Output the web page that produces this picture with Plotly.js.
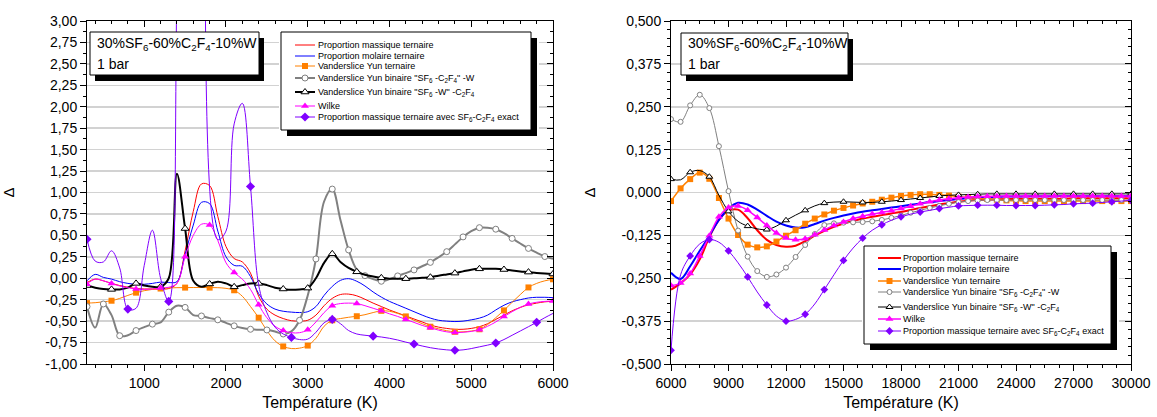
<!DOCTYPE html>
<html><head><meta charset="utf-8">
<script src="https://cdn.plot.ly/plotly-3.0.1.min.js"></script>
<style>html,body{margin:0;padding:0;background:#fff}#chart{width:1157px;height:417px}</style>
</head><body><div id="chart"></div>
<script>
// ---------------- DATA ----------------
const T_LEFT = [300,400,500,600,700,800,900,1000,1100,1200,
 1300,1400,1500,1600,1700,1800,1900,2000,2100,2200,
 2300,2400,2500,2600,2700,2800,2900,3000,3100,3200,
 3300,3400,3500,3600,3700,3800,3900,4000,4100,4200,
 4300,4400,4500,4600,4700,4800,4900,5000,5100,5200,
 5300,5400,5500,5600,5700,5800,5900,6000];

const RED_L = [-0.05,-0.01,-0.03,-0.06,-0.085,-0.105,-0.12,-0.125,-0.125,-0.125,
 -0.12,-0.06,0.32,0.78,1.10,1.08,0.72,0.37,0.23,0.19,
 0.06,-0.21,-0.36,-0.43,-0.47,-0.495,-0.50,-0.49,-0.43,-0.32,
 -0.235,-0.19,-0.185,-0.205,-0.245,-0.29,-0.33,-0.37,-0.405,-0.44,
 -0.475,-0.51,-0.545,-0.57,-0.585,-0.595,-0.595,-0.585,-0.565,-0.53,
 -0.48,-0.43,-0.38,-0.34,-0.31,-0.29,-0.275,-0.27];

const BLUE_L = [-0.03,0.045,0.01,-0.01,-0.04,-0.06,-0.07,-0.07,-0.06,-0.045,
 -0.05,-0.04,0.28,0.62,0.885,0.87,0.55,0.25,0.15,0.14,
 0.02,-0.18,-0.30,-0.36,-0.385,-0.395,-0.40,-0.39,-0.33,-0.20,
 -0.095,-0.025,-0.005,-0.035,-0.09,-0.16,-0.22,-0.27,-0.31,-0.35,
 -0.39,-0.43,-0.465,-0.49,-0.50,-0.505,-0.50,-0.485,-0.465,-0.43,
 -0.37,-0.315,-0.275,-0.25,-0.23,-0.222,-0.222,-0.226];

const ORANGE_L = [-0.29,-0.285,-0.275,-0.262,-0.235,-0.20,-0.168,-0.145,-0.13,-0.12,
 -0.113,-0.11,-0.109,-0.108,-0.108,-0.109,-0.11,-0.118,-0.14,-0.21,
 -0.33,-0.46,-0.61,-0.73,-0.795,-0.82,-0.815,-0.785,-0.70,-0.56,
 -0.49,-0.47,-0.455,-0.443,-0.425,-0.40,-0.38,-0.385,-0.41,-0.445,
 -0.49,-0.53,-0.565,-0.59,-0.612,-0.625,-0.625,-0.615,-0.595,-0.54,
 -0.46,-0.375,-0.28,-0.19,-0.107,-0.06,-0.03,-0.012];

const GRAY_L = [-0.33,-0.575,-0.30,-0.43,-0.67,-0.665,-0.61,-0.57,-0.535,-0.515,
 -0.395,-0.32,-0.34,-0.43,-0.44,-0.465,-0.485,-0.52,-0.555,-0.58,
 -0.595,-0.60,-0.603,-0.62,-0.65,-0.62,-0.49,-0.20,0.225,0.895,
 1.04,0.68,0.33,0.10,0.03,-0.01,-0.035,-0.01,0.027,0.06,
 0.097,0.14,0.185,0.245,0.31,0.395,0.482,0.55,0.59,0.59,
 0.572,0.525,0.465,0.405,0.348,0.298,0.253,0.228];

const BLACK_L = [-0.085,-0.11,-0.125,-0.13,-0.13,-0.11,-0.06,-0.085,-0.10,-0.10,
 0.0,1.22,0.58,-0.03,-0.10,-0.066,-0.04,-0.06,-0.10,-0.08,
 -0.06,-0.06,-0.08,-0.11,-0.125,-0.135,-0.13,-0.115,0.0,0.18,
 0.285,0.19,0.12,0.075,0.04,0.02,0.005,-0.005,-0.005,-0.005,
 0.0,0.005,0.012,0.03,0.045,0.06,0.08,0.10,0.11,0.112,
 0.11,0.102,0.09,0.08,0.072,0.062,0.055,0.05];

const MAGENTA_L = [-0.07,-0.01,-0.03,-0.06,-0.09,-0.11,-0.125,-0.13,-0.125,-0.115,
 -0.105,-0.06,0.25,0.50,0.63,0.62,0.44,0.18,0.066,-0.01,
 -0.13,-0.31,-0.46,-0.56,-0.61,-0.635,-0.635,-0.60,-0.51,-0.40,
 -0.32,-0.295,-0.29,-0.295,-0.32,-0.35,-0.38,-0.415,-0.445,-0.48,
 -0.515,-0.55,-0.578,-0.605,-0.625,-0.634,-0.63,-0.62,-0.60,-0.56,
 -0.51,-0.447,-0.39,-0.34,-0.30,-0.28,-0.27,-0.265];

const PURPLE_L = [0.455,0.20,0.19,0.32,0.12,-0.36,-0.35,0.15,0.56,0.0,
 -0.27,3.4,14,22,22,14,0.45,0.55,1.8,2.04,
 1.07,-0.08,-0.40,-0.57,-0.65,-0.69,-0.715,-0.71,-0.63,-0.52,
 -0.48,-0.53,-0.61,-0.65,-0.665,-0.675,-0.685,-0.70,-0.72,-0.745,
 -0.767,-0.79,-0.81,-0.825,-0.835,-0.84,-0.835,-0.82,-0.80,-0.78,
 -0.755,-0.715,-0.665,-0.615,-0.565,-0.514,-0.46,-0.41];

const T_RIGHT = [6000,6500,7000,7500,8000,8500,9000,9500,10000,10500,
 11000,11500,12000,12500,13000,13500,14000,14500,15000,15500,
 16000,16500,17000,17500,18000,18500,19000,19500,20000,20500,
 21000,21500,22000,22500,23000,23500,24000,24500,25000,25500,
 26000,26500,27000,27500,28000,28500,29000,29500,30000];

const RED_R = [-0.283,-0.265,-0.239,-0.195,-0.13,-0.08,-0.053,-0.05,-0.075,-0.11,
 -0.138,-0.153,-0.158,-0.155,-0.142,-0.126,-0.112,-0.1,-0.091,-0.083,
 -0.076,-0.071,-0.066,-0.061,-0.057,-0.051,-0.045,-0.04,-0.035,-0.031,
 -0.027,-0.024,-0.022,-0.021,-0.02,-0.019,-0.019,-0.018,-0.018,-0.018,
 -0.018,-0.018,-0.017,-0.017,-0.017,-0.017,-0.017,-0.017,-0.017];

const BLUE_R = [-0.234,-0.252,-0.215,-0.17,-0.126,-0.08,-0.047,-0.03,-0.035,-0.05,
 -0.068,-0.085,-0.096,-0.102,-0.101,-0.092,-0.082,-0.074,-0.067,-0.061,
 -0.056,-0.052,-0.048,-0.044,-0.04,-0.036,-0.032,-0.028,-0.025,-0.022,
 -0.019,-0.017,-0.015,-0.014,-0.013,-0.012,-0.012,-0.011,-0.011,-0.011,
 -0.011,-0.01,-0.01,-0.01,-0.01,-0.01,-0.01,-0.01,-0.01];

const ORANGE_R = [-0.025,0.012,0.039,0.058,0.04,-0.016,-0.076,-0.124,-0.152,-0.16,
 -0.157,-0.143,-0.126,-0.11,-0.091,-0.076,-0.064,-0.053,-0.045,-0.038,
 -0.032,-0.027,-0.021,-0.015,-0.01,-0.007,-0.005,-0.005,-0.007,-0.009,
 -0.012,-0.015,-0.017,-0.019,-0.021,-0.023,-0.024,-0.025,-0.025,-0.025,
 -0.025,-0.025,-0.025,-0.025,-0.025,-0.025,-0.025,-0.025,-0.025];

const GRAY_R = [0.214,0.206,0.254,0.285,0.246,0.135,0.004,-0.111,-0.187,-0.229,
 -0.246,-0.239,-0.219,-0.188,-0.153,-0.121,-0.095,-0.09,-0.088,-0.087,
 -0.086,-0.084,-0.08,-0.074,-0.067,-0.059,-0.052,-0.045,-0.039,-0.033,
 -0.028,-0.025,-0.023,-0.022,-0.022,-0.022,-0.022,-0.022,-0.022,-0.022,
 -0.022,-0.022,-0.022,-0.022,-0.022,-0.022,-0.022,-0.022,-0.022];

const BLACK_R = [0.039,0.037,0.059,0.064,0.046,-0.008,-0.055,-0.084,-0.098,-0.106,
 -0.108,-0.098,-0.081,-0.066,-0.052,-0.039,-0.031,-0.028,-0.027,-0.028,
 -0.029,-0.029,-0.027,-0.025,-0.022,-0.019,-0.016,-0.013,-0.01,-0.008,
 -0.007,-0.006,-0.005,-0.004,-0.004,-0.004,-0.004,-0.004,-0.004,-0.004,
 -0.004,-0.004,-0.004,-0.004,-0.004,-0.004,-0.004,-0.004,-0.004];

const MAGENTA_R = [-0.271,-0.264,-0.236,-0.185,-0.126,-0.071,-0.044,-0.039,-0.052,-0.073,
 -0.096,-0.118,-0.133,-0.138,-0.135,-0.123,-0.109,-0.096,-0.086,-0.076,
 -0.069,-0.063,-0.058,-0.053,-0.047,-0.04,-0.033,-0.027,-0.022,-0.018,
 -0.015,-0.013,-0.012,-0.011,-0.011,-0.01,-0.01,-0.01,-0.01,-0.01,
 -0.01,-0.01,-0.01,-0.01,-0.01,-0.01,-0.01,-0.01,-0.01];

const PURPLE_R = [-0.46,-0.24,-0.185,-0.15,-0.137,-0.145,-0.17,-0.205,-0.246,-0.29,
 -0.328,-0.36,-0.375,-0.37,-0.355,-0.325,-0.283,-0.24,-0.198,-0.162,
 -0.133,-0.11,-0.094,-0.081,-0.071,-0.063,-0.057,-0.052,-0.047,-0.043,
 -0.039,-0.038,-0.037,-0.037,-0.037,-0.038,-0.038,-0.038,-0.038,-0.037,
 -0.036,-0.035,-0.033,-0.032,-0.031,-0.029,-0.027,-0.025,-0.023];

const LEGEND_NAMES = [
 'Proportion massique ternaire',
 'Proportion molaire ternaire',
 'Vanderslice Yun ternaire',
 'Vanderslice Yun binaire "SF<sub>6</sub> -C<sub>2</sub>F<sub>4</sub>" -W',
 'Vanderslice Yun binaire "SF<sub>6</sub> -W" -C<sub>2</sub>F<sub>4</sub>',
 'Wilke',
 'Proportion massique ternaire avec SF<sub>6</sub>-C<sub>2</sub>F<sub>4</sub> exact'
];
const BOX_LINE1 = '30%SF<sub>6</sub>-60%C<sub>2</sub>F<sub>4</sub>-10%W';
const BOX_LINE2 = '1 bar';
const X_TITLE = 'Température (K)';
const Y_TITLE = 'Δ';
const YL_TICKVALS = [-1,-0.75,-0.5,-0.25,0,0.25,0.5,0.75,1,1.25,1.5,1.75,2,2.25,2.5,2.75,3];
const YL_TICKTEXT = ['-1,00','-0,75','-0,50','-0,25','0,00','0,25','0,50','0,75','1,00','1,25','1,50','1,75','2,00','2,25','2,50','2,75','3,00'];
const YR_TICKVALS = [-0.5,-0.375,-0.25,-0.125,0,0.125,0.25,0.375,0.5];
const YR_TICKTEXT = ['-0,500','-0,375','-0,250','-0,125','0,000','0,125','0,250','0,375','0,500'];

// ---------------- LAYOUT HELPERS ----------------
const FONT = 'Liberation Sans, Arial, Helvetica, sans-serif';
const W = 1157, H = 417, ML = 87, MR = 26, MT = 21, MB = 53;
const PW = W - ML - MR, PH = H - MT - MB;
const px = v => (v - ML) / PW;
const py = v => (H - MB - v) / PH;

const COL = {red:'#ff0000', blue:'#0000ff', orange:'#ff8000', gray:'#808080', black:'#000000', magenta:'#ff00ff', purple:'#8000ff'};

const STYLE_L = [
 {c:COL.red, w:1},
 {c:COL.blue, w:1},
 {c:COL.orange, w:1, m:{symbol:'square', size:6, color:COL.orange, line:{width:0}}, every:300, off:0},
 {c:COL.gray, w:2, m:{symbol:'circle', size:6, color:'#ffffff', line:{width:1, color:COL.gray}}, every:200, off:100},
 {c:COL.black, w:2, m:{symbol:'triangle-up', size:7, color:'#ffffff', line:{width:1, color:COL.black}}, every:300, off:0},
 {c:COL.magenta, w:1, m:{symbol:'triangle-up', size:7, color:COL.magenta, line:{width:0}}, every:300, off:0},
 {c:COL.purple, w:1, m:{symbol:'diamond', size:7, color:COL.purple, line:{width:0}}, every:500, off:300}
];
const STYLE_R = [
 {c:COL.red, w:2},
 {c:COL.blue, w:2},
 {c:COL.orange, w:1.5, m:{symbol:'square', size:6, color:COL.orange, line:{width:0}}, every:500, off:0},
 {c:COL.gray, w:1, m:{symbol:'circle', size:5, color:'#ffffff', line:{width:1, color:COL.gray}}, every:500, off:0},
 {c:COL.black, w:1, m:{symbol:'triangle-up', size:6, color:'#ffffff', line:{width:1, color:COL.black}}, every:1000, off:0},
 {c:COL.magenta, w:1.5, m:{symbol:'triangle-up', size:7, color:COL.magenta, line:{width:0}}, every:500, off:0},
 {c:COL.purple, w:1, m:{symbol:'diamond', size:6, color:COL.purple, line:{width:0}}, every:1000, off:0}
];

const traces = [];
function addSeries(xs, ys, st, xa, ya) {
  traces.push({type:'scatter', mode:'lines', x:xs, y:ys, xaxis:xa, yaxis:ya,
    line:{color:st.c, width:st.w, shape:'spline', smoothing:1}, hoverinfo:'skip', showlegend:false});
  if (st.m) {
    const mx = [], my = [];
    xs.forEach((t, i) => { if (((t - st.off) % st.every) === 0) { mx.push(t); my.push(ys[i]); } });
    traces.push({type:'scatter', mode:'markers', x:mx, y:my, xaxis:xa, yaxis:ya,
      marker:st.m, hoverinfo:'skip', showlegend:false});
  }
}
const LEFT_SERIES = [RED_L, BLUE_L, ORANGE_L, GRAY_L, BLACK_L, MAGENTA_L, PURPLE_L];
const RIGHT_SERIES = [RED_R, BLUE_R, ORANGE_R, GRAY_R, BLACK_R, MAGENTA_R, PURPLE_R];
LEFT_SERIES.forEach((ys, i) => addSeries(T_LEFT, ys, STYLE_L[i], 'x', 'y'));
RIGHT_SERIES.forEach((ys, i) => addSeries(T_RIGHT, ys, STYLE_R[i], 'x2', 'y2'));

// empty traces so the mirror (inner-tick) axes exist
traces.push({type:'scatter', x:[], y:[], xaxis:'x3', yaxis:'y', showlegend:false, hoverinfo:'skip'});
traces.push({type:'scatter', x:[], y:[], xaxis:'x', yaxis:'y3', showlegend:false, hoverinfo:'skip'});
traces.push({type:'scatter', x:[], y:[], xaxis:'x4', yaxis:'y2', showlegend:false, hoverinfo:'skip'});
traces.push({type:'scatter', x:[], y:[], xaxis:'x2', yaxis:'y4', showlegend:false, hoverinfo:'skip'});

// ---------------- LEGEND BOXES (own little subplots) ----------------
const annotations = [];
const shapes = [];
function buildLegend(cfg) {
  const xa = 'x' + cfg.id, ya = 'y' + cfg.id;
  shapes.push({type:'rect', xref:xa, yref:ya, layer:'below', x0:cfg.box[0]+6-cfg.org[0], y0:cfg.box[1]+6-cfg.org[1], x1:cfg.box[2]+6-cfg.org[0], y1:cfg.box[3]+6-cfg.org[1], fillcolor:'#000', line:{width:0}});
  shapes.push({type:'rect', xref:xa, yref:ya, layer:'below', x0:cfg.box[0]-cfg.org[0], y0:cfg.box[1]-cfg.org[1], x1:cfg.box[2]-cfg.org[0], y1:cfg.box[3]-cfg.org[1], fillcolor:'#fff', line:{width:1, color:'#000'}});
  cfg.rows.forEach((r, i) => {
    const st = cfg.styles[i];
    const yy = r - cfg.org[1];
    traces.push({type:'scatter', mode:'lines', x:[cfg.sx0 - cfg.org[0], cfg.sx1 - cfg.org[0]], y:[yy, yy], xaxis:xa, yaxis:ya,
      line:{color:st.c, width:Math.max(st.w, 1)}, hoverinfo:'skip', showlegend:false});
    if (st.m) traces.push({type:'scatter', mode:'markers', x:[(cfg.sx0 + cfg.sx1)/2 - cfg.org[0]], y:[yy], xaxis:xa, yaxis:ya,
      marker:st.m, hoverinfo:'skip', showlegend:false, cliponaxis:false});
    annotations.push({xref:xa, yref:ya, x:cfg.tx - cfg.org[0], y:yy, xanchor:'left', yanchor:'middle', showarrow:false,
      text:LEGEND_NAMES[i], font:{family:FONT, size:9, color:'#000'}, borderpad:0});
  });
}
const LEG_L = {id:5, org:[279, 30], ext:[539, 139], box:[281, 32, 531, 130], rows:[45, 56, 66, 78, 92, 106, 117], sx0:295, sx1:315, tx:317, styles:STYLE_L};
const LEG_R = {id:6, org:[862, 244], ext:[1119, 352], box:[864, 246, 1111, 344], rows:[258, 269, 281, 292, 307, 319, 331], sx0:878, sx1:901, tx:902, styles:STYLE_R};
buildLegend(LEG_L);
buildLegend(LEG_R);

// ---------------- INFO BOXES ----------------
function infoBox(b, tx) {
  shapes.push({type:'rect', xref:'paper', yref:'paper', layer:'above', x0:px(b[0]+5), y0:py(b[1]+6), x1:px(b[2]+5), y1:py(b[3]+6), fillcolor:'#000', line:{width:0}});
  shapes.push({type:'rect', xref:'paper', yref:'paper', layer:'above', x0:px(b[0]), y0:py(b[1]), x1:px(b[2]), y1:py(b[3]), fillcolor:'#fff', line:{width:1, color:'#000'}});
  annotations.push({xref:'paper', yref:'paper', x:px(tx), y:py(44), xanchor:'left', yanchor:'middle', showarrow:false, text:BOX_LINE1, font:{family:FONT, size:14, color:'#000'}, borderpad:0});
  annotations.push({xref:'paper', yref:'paper', x:px(tx), y:py(64), xanchor:'left', yanchor:'middle', showarrow:false, text:BOX_LINE2, font:{family:FONT, size:14, color:'#000'}, borderpad:0});
}
infoBox([90, 32, 259, 75], 96);
infoBox([681, 33, 848, 75], 687);

// ---------------- AXES ----------------
const tickFont = {family:FONT, size:14, color:'#000'};
const base = {showline:true, linecolor:'#000', linewidth:1, zeroline:false, fixedrange:true, ticks:'outside', ticklen:6, tickwidth:1, tickcolor:'#000', tickfont:tickFont};
const mirrorBase = {showline:true, linecolor:'#000', linewidth:1, zeroline:false, fixedrange:true, ticks:'inside', ticklen:6, tickwidth:1, tickcolor:'#000', showticklabels:false, showgrid:false};
const XL = [300, 6000], XR = [6000, 30000];
const DOM_L = [0, px(553)], DOM_R = [px(671), 1];

const layout = {
  width:W, height:H, margin:{l:ML, r:MR, t:MT, b:MB, pad:0},
  paper_bgcolor:'#fff', plot_bgcolor:'#fff', showlegend:false,
  font:{family:FONT, color:'#000'},
  xaxis: Object.assign({}, base, {domain:DOM_L, range:XL, anchor:'y', dtick:1000, tick0:0, tickformat:'d', showgrid:false,
    minor:{ticks:'outside', ticklen:3, dtick:200, tick0:0, tickcolor:'#000', showgrid:false},
    title:{text:X_TITLE, font:{family:FONT, size:16, color:'#000'}, standoff:7}}),
  yaxis: Object.assign({}, base, {domain:[0,1], range:[-1,3], anchor:'x', tickmode:'array', tickvals:YL_TICKVALS, ticktext:YL_TICKTEXT,
    showgrid:true, gridcolor:'#d2d2d2', gridwidth:1.5,
    minor:{ticks:'outside', ticklen:3, dtick:0.125, tick0:0, tickcolor:'#000', showgrid:false},
    title:{text:Y_TITLE, font:{family:FONT, size:15, color:'#000'}, standoff:29}}),
  xaxis2: Object.assign({}, base, {domain:DOM_R, range:XR, anchor:'y2', dtick:3000, tick0:0, tickformat:'d', showgrid:false,
    minor:{ticks:'outside', ticklen:3, dtick:750, tick0:0, tickcolor:'#000', showgrid:false},
    title:{text:X_TITLE, font:{family:FONT, size:16, color:'#000'}, standoff:7}}),
  yaxis2: Object.assign({}, base, {domain:[0,1], range:[-0.5,0.5], anchor:'x2', tickmode:'array', tickvals:YR_TICKVALS, ticktext:YR_TICKTEXT,
    showgrid:true, gridcolor:'#d2d2d2', gridwidth:1.5,
    minor:{ticks:'outside', ticklen:3, dtick:0.025, tick0:0, tickcolor:'#000', showgrid:false},
    title:{text:Y_TITLE, font:{family:FONT, size:15, color:'#000'}, standoff:22}}),
  xaxis3: Object.assign({}, mirrorBase, {overlaying:'x', anchor:'y', side:'top', range:XL, dtick:1000, tick0:0,
    minor:{ticks:'inside', ticklen:3, dtick:200, tick0:0, tickcolor:'#000'}}),
  yaxis3: Object.assign({}, mirrorBase, {overlaying:'y', anchor:'x', side:'right', range:[-1,3], dtick:0.25, tick0:0,
    minor:{ticks:'inside', ticklen:3, dtick:0.125, tick0:0, tickcolor:'#000'}}),
  xaxis4: Object.assign({}, mirrorBase, {overlaying:'x2', anchor:'y2', side:'top', range:XR, dtick:3000, tick0:0,
    minor:{ticks:'inside', ticklen:3, dtick:750, tick0:0, tickcolor:'#000'}}),
  yaxis4: Object.assign({}, mirrorBase, {overlaying:'y2', anchor:'x2', side:'right', range:[-0.5,0.5], dtick:0.125, tick0:0,
    minor:{ticks:'inside', ticklen:3, dtick:0.025, tick0:0, tickcolor:'#000'}}),
  shapes: shapes,
  annotations: annotations
};
[LEG_L, LEG_R].forEach(c => {
  layout['xaxis' + c.id] = {domain:[px(c.org[0]), px(c.ext[0])], range:[0, c.ext[0]-c.org[0]], anchor:'y'+c.id, visible:false, fixedrange:true, showgrid:false, zeroline:false};
  layout['yaxis' + c.id] = {domain:[py(c.ext[1]), py(c.org[1])], range:[c.ext[1]-c.org[1], 0], anchor:'x'+c.id, visible:false, fixedrange:true, showgrid:false, zeroline:false};
});

Plotly.newPlot('chart', traces, layout, {staticPlot:true, displayModeBar:false});
</script>
</body></html>
